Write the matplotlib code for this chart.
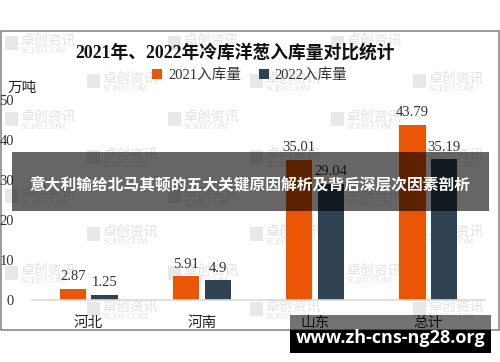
import numpy as np
import matplotlib.pyplot as plt
from matplotlib.patches import Rectangle

regions = ["河北", "河南", "山东", "总计"]
stock_2021 = [2.87, 5.91, 35.01, 43.79]
stock_2022 = [1.25, 4.9, 29.04, 35.19]
label_2021 = [2.87, 5.91, 35.01, 43.79]
label_2022 = [1.25, 4.9, 29.04, 35.19]
series_names = ["2021入库量", "2022入库量"]

SERIF = ["Liberation Serif", "Noto Sans CJK SC"]
ORANGE = "#EA5506"
SLATE = "#2F4353"

W, H = 500, 362
fig = plt.figure(figsize=(W / 100, H / 100), dpi=100)


def fx(px):
    return px / W


def fy(py):
    return 1 - py / H


def rect(x0, y0, x1, y1, **kw):
    r = Rectangle((fx(x0), fy(y1)), fx(x1) - fx(x0), fy(y0) - fy(y1),
                  transform=fig.transFigure, **kw)
    fig.add_artist(r)
    return r


# outer frame
rect(1, 31, 499, 330, facecolor="white", edgecolor="#8a8a8a", lw=1.2, zorder=0)

# faint watermarks (under the bars)
rows = [42, 80, 118, 156, 195, 233, 272, 308]
for i, yy in enumerate(rows):
    xs = [5, 168, 331] if i % 2 == 0 else [87, 250, 413]
    for xx in xs:
        rect(xx, yy - 6, xx + 13, yy + 8, facecolor="#e8e8e8", edgecolor="none", zorder=0.5)
        fig.text(fx(xx + 15), fy(yy - 1), "卓创资讯", fontsize=10, color="#e2e2e2",
                 family=["Noto Sans CJK SC"], va="center", ha="left", zorder=0.5)
        fig.text(fx(xx + 15), fy(yy + 9), "SCI99.COM", fontsize=6.5, color="#e2e2e2",
                 family=SERIF, va="center", ha="left", zorder=0.5)

ax = fig.add_axes([fx(32), fy(300), fx(485) - fx(32), fy(100) - fy(300)])
ax.set_zorder(1)
ax.patch.set_alpha(0)
x = np.arange(len(regions))
w = 0.23
b1 = ax.bar(x - 0.14, stock_2021, w, color=ORANGE, label=series_names[0], zorder=2)
b2 = ax.bar(x + 0.14, stock_2022, w, color=SLATE, label=series_names[1], zorder=2)
for bars, labels in ((b1, label_2021), (b2, label_2022)):
    for bar, lab in zip(bars, labels):
        ax.annotate(f"{lab:g}", (bar.get_x() + bar.get_width() / 2, bar.get_height()),
                    xytext=(0, 4), textcoords="offset points", ha="center", va="bottom",
                    fontsize=10.5, family=SERIF, color="#333333")

ax.set_xlim(-0.5, 3.5)
ax.set_ylim(0, 50)
ax.set_yticks([0, 10, 20, 30, 40, 50])
ax.set_xticks(x)
ax.set_xticklabels(regions, family=SERIF, fontsize=10.5, color="#222222")
for t in ax.get_yticklabels():
    t.set_family(SERIF)
    t.set_fontsize(10.5)
    t.set_color("#333333")
ax.tick_params(axis="y", length=0, pad=13)
ax.tick_params(axis="x", length=0, pad=12)
for s in ["top", "right", "left"]:
    ax.spines[s].set_visible(False)
ax.spines["bottom"].set_color("#d9d9d9")
ax.spines["bottom"].set_linewidth(1.2)

fig.text(fx(235), fy(53), "2021年、2022年冷库洋葱入库量对比统计", fontsize=12.8,
         fontweight="bold", family=SERIF, ha="center", va="center", color="#111111", zorder=2)
fig.text(fx(8), fy(88), "万吨", fontsize=10.5, family=SERIF, ha="left", va="center",
         color="#222222", zorder=2)

leg = fig.legend(handles=[b1, b2], labels=series_names, loc="center", bbox_to_anchor=(fx(250), fy(75)),
                 ncol=2, frameon=False, prop={"family": SERIF, "size": 10.5},
                 handlelength=0.7, handleheight=0.7, handletextpad=0.4, columnspacing=1.2)
leg.set_zorder(2)
for t in leg.get_texts():
    t.set_color("#333333")

# overlay banner
rect(12, 152, 489, 211, facecolor="black", alpha=0.6, edgecolor="none", zorder=10)
fig.text(fx(250), fy(184), "意大利输给北马其顿的五大关键原因解析及背后深层次因素剖析",
         fontsize=11.3, fontweight="bold", color="white", family=["Noto Sans CJK SC"],
         ha="center", va="center", zorder=11)

# bottom url tag
rect(290, 315, 491, 330, facecolor="black", alpha=0.55, edgecolor="none", zorder=10)
rect(290, 330, 491, 353, facecolor="black", edgecolor="none", zorder=10)
fig.text(fx(391), fy(338), "www.zh-cns-ng28.org", fontsize=13, fontweight="bold",
         color="white", family=["Open Sans", "DejaVu Sans"], ha="center", va="center", zorder=11)

fig.savefig("out.png", dpi=100)
